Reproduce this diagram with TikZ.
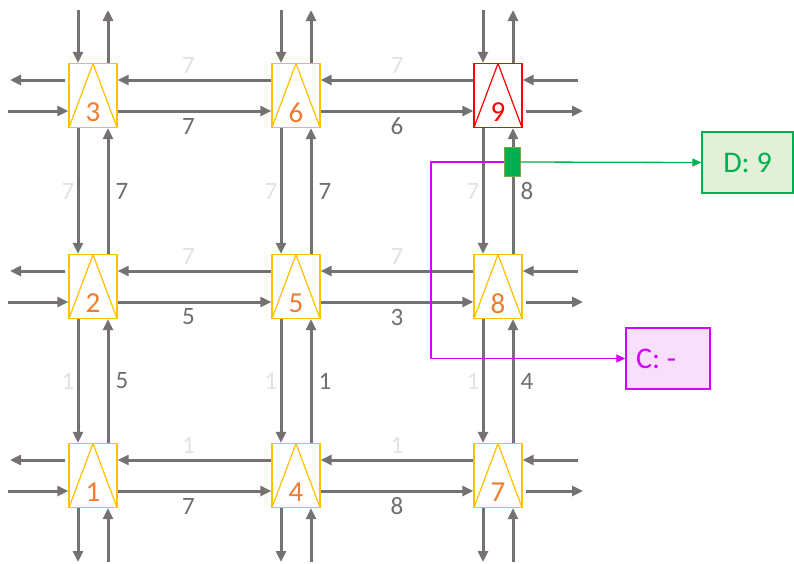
\documentclass[tikz,border=0pt]{standalone}
\usepackage{fontspec}
\setmainfont{Carlito}
\usetikzlibrary{arrows.meta,calc}
\definecolor{arrg}{RGB}{118,113,113}
\definecolor{lightg}{RGB}{226,226,226}
\definecolor{darkg}{RGB}{110,110,110}
\definecolor{yel}{RGB}{255,192,0}
\definecolor{orn}{RGB}{237,125,49}
\definecolor{grn}{RGB}{0,176,80}
\definecolor{grnbord}{RGB}{112,173,71}
\definecolor{grnfill}{RGB}{226,240,217}
\definecolor{mag}{RGB}{214,0,255}
\definecolor{magfill}{RGB}{248,224,252}
\begin{document}
\begin{tikzpicture}[x=1pt,y=-1pt,
  cell/.style={draw=#1, line width=1.3pt, minimum width=48pt, minimum height=64pt, inner sep=0pt, fill=white,
    path picture={\draw[#1,line width=1.2pt] (path picture bounding box.south west) -- (path picture bounding box.north) -- (path picture bounding box.south east);}},
  num/.style={font=\fontsize{29}{29}\selectfont, text=orn, yshift=-17pt, inner sep=0pt},
  arr/.style={draw=arrg, line width=3pt, -{Triangle[length=11pt,width=10pt]}},
  lab/.style={font=\fontsize{25}{25}\selectfont, text=darkg, inner sep=0pt},
  llab/.style={lab, text=lightg},
  gline/.style={draw=grn, line width=1.3pt, -{Triangle[length=9pt,width=8pt]}},
  mline/.style={draw=mag, line width=1.3pt, -{Triangle[length=9pt,width=8pt]}},
  boxtext/.style={font=\fontsize{30}{30}\selectfont}
]
\fill[white] (0,0) rectangle (794,563);
\useasboundingbox (0,0) rectangle (794,563);

% cells
\node[cell=yel, label={[num]center:3}] (n3) at (93,95.5) {};
\node[cell=yel, label={[num]center:6}] (n6) at (296,95.5) {};
\node[cell=red, label={[num, text=red]center:9}] (n9) at (498,95.5) {};
\node[cell=yel, label={[num]center:2}] (n2) at (93,286.5) {};
\node[cell=yel, label={[num]center:5}] (n5) at (296,286.5) {};
\node[cell=yel, label={[num]center:8}] (n8) at (498,286.5) {};
\node[cell=yel, label={[num]center:1}] (n1) at (93,475.5) {};
\node[cell=yel, label={[num]center:4}] (n4) at (296,475.5) {};
\node[cell=yel, label={[num]center:7}] (n7) at (498,475.5) {};

% horizontal links
\foreach \a/\b/\l/\d/\s in {n3/n6/7/7/-6, n6/n9/7/6/0, n2/n5/7/5/-6, n5/n8/7/3/0, n1/n4/1/7/-6, n4/n7/1/8/0}{
  \draw[arr] ([yshift=15.5pt]\b.west) -- node[llab, yshift=15pt, xshift=\s pt]{\l} ([yshift=15.5pt]\a.east);
  \draw[arr] ([yshift=-15.5pt]\a.east) -- node[lab, yshift=-15pt, xshift=\s pt]{\d} ([yshift=-15.5pt]\b.west);
}
% vertical links
\foreach \t/\b/\l/\d in {n3/n2/7/7, n2/n1/1/5, n6/n5/7/7, n5/n4/1/1, n9/n8/7/8, n8/n7/1/4}{
  \draw[arr] ([xshift=-15pt]\t.south) -- node[llab, xshift=-10pt]{\l} ([xshift=-15pt]\b.north);
  \draw[arr] ([xshift=15pt]\b.north) -- node[lab, xshift=14pt]{\d} ([xshift=15pt]\t.south);
}

% top stubs
\foreach \n/\x in {n3/93, n6/296, n9/498}{
  \coordinate (\n-tin) at (\x-15,10);
  \coordinate (\n-tout) at (\x+15,10);
  \draw[arr] (\n-tin) -- ([xshift=-15pt]\n.north);
  \draw[arr] ([xshift=15pt]\n.north) -- (\n-tout);
}
% bottom stubs
\foreach \n/\x in {n1/93, n4/296, n7/498}{
  \coordinate (\n-bout) at (\x-15,562);
  \coordinate (\n-bin) at (\x+15,562);
  \draw[arr] ([xshift=-15pt]\n.south) -- (\n-bout);
  \draw[arr] (\n-bin) -- ([xshift=15pt]\n.south);
}
% left stubs
\foreach \n/\y in {n3/95.5, n2/286.5, n1/475.5}{
  \coordinate (\n-lout) at (10,\y-15.5);
  \coordinate (\n-lin) at (8,\y+15.5);
  \draw[arr] ([shift={(-3pt,15.5pt)}]\n.west) -- (\n-lout);
  \draw[arr] (\n-lin) -- ([yshift=-15.5pt]\n.west);
}
% right stubs
\foreach \n/\y in {n9/95.5, n8/286.5, n7/475.5}{
  \coordinate (\n-rin) at (578,\y-15.5);
  \coordinate (\n-rout) at (583,\y+15.5);
  \draw[arr] (\n-rin) -- ([yshift=15.5pt]\n.east);
  \draw[arr] ([shift={(3pt,-15.5pt)}]\n.east) -- (\n-rout);
}

% result boxes
\node[draw=grn, fill=grnfill, line width=1.5pt, minimum width=91pt, minimum height=61pt, inner sep=0pt, text=grn, boxtext] (D) at (747.5,162.5) {D: 9};
\node[draw=mag, fill=magfill, line width=1.5pt, minimum width=84pt, minimum height=61pt, inner sep=0pt,
  label={[boxtext, text=mag, xshift=-12pt, inner sep=0pt]center:{C: -}}] (C) at (668,358.5) {};

% sensor
\coordinate (sw-pos) at (512,162);
\draw[mline] (sw-pos) -- ++(-81,0) |- (C.west);
\node[draw=grnbord, fill=grn, line width=1pt, minimum width=16pt, minimum height=29pt, inner sep=0pt] (sw) at (sw-pos) {};
\draw[gline] (sw.east) -- (D.west);
\end{tikzpicture}
\end{document}
